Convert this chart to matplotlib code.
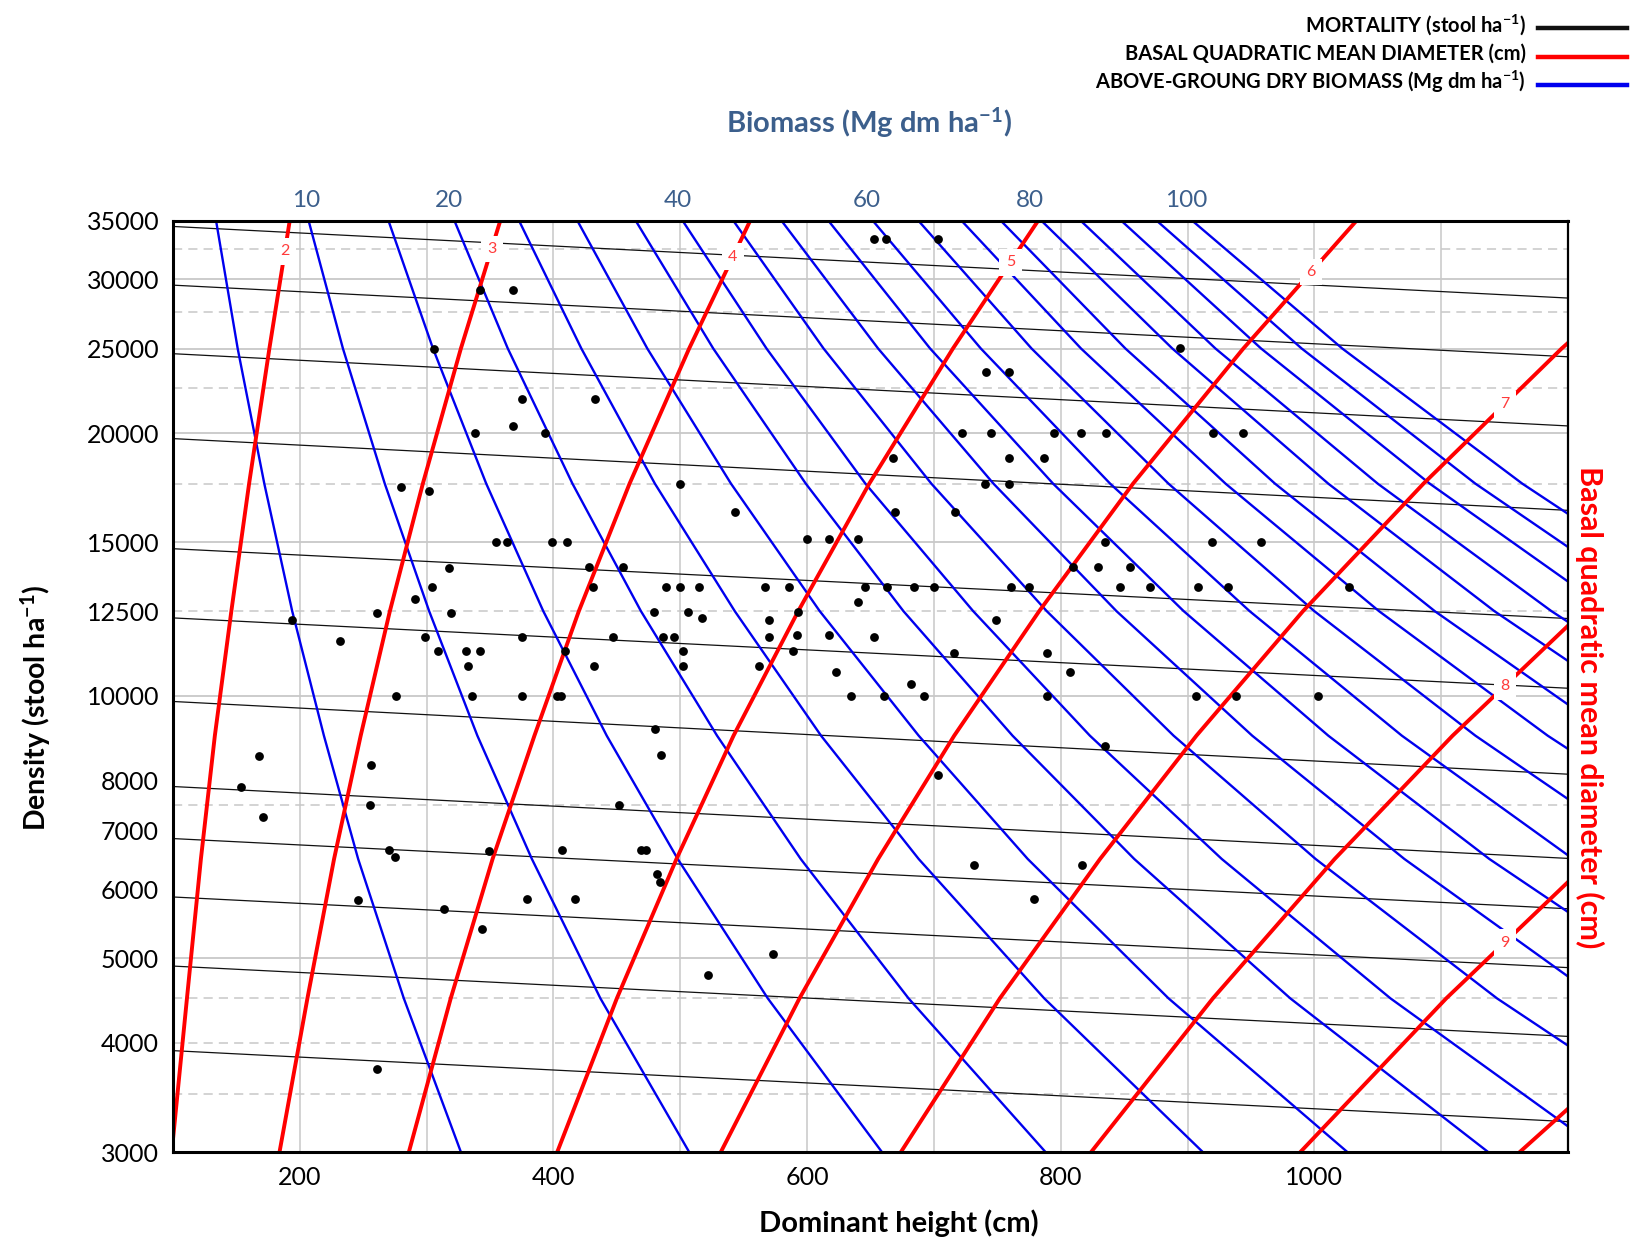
import numpy as np
import matplotlib.pyplot as plt
from matplotlib.lines import Line2D
from matplotlib.ticker import NullLocator, NullFormatter

plt.rcParams['font.family'] = ['Lato', 'DejaVu Sans']
plt.rcParams['mathtext.default'] = 'regular'

# sampled plots: dominant height (cm) and density (stool/ha)
plot_height = [342, 368, 306, 375, 433, 368, 338, 393, 280, 302, 355, 363, 399, 411, 318, 428,
               455, 304, 431, 291, 261, 319, 194, 232, 299, 309, 331, 342, 333, 375, 447, 409,
               432, 276, 336, 375, 403, 406, 168, 154, 171, 256, 255, 452, 270, 275, 349, 407,
               469, 473, 246, 314, 379, 417, 344, 261, 653, 662, 703, 741, 759, 722, 745, 795,
               816, 836, 668, 759, 787, 500, 740, 759, 543, 669, 717, 600, 617, 640, 835, 810,
               829, 855, 489, 500, 515, 567, 586, 646, 663, 684, 700, 761, 775, 847, 870, 640,
               894, 920, 944, 919, 958, 908, 932, 1027, 479, 506, 517, 570, 593, 486, 495, 502,
               502, 570, 592, 589, 562, 617, 653, 623, 682, 635, 661, 692, 749, 716, 789, 807,
               789, 480, 485, 835, 703, 482, 484, 732, 817, 779, 573, 522, 907, 938, 1003]
plot_density = [29200, 29200, 25000, 21900, 21900, 20400, 20000, 20000, 17350, 17160, 15000,
                15000, 15000, 15000, 14020, 14040, 14040, 13340, 13340, 12920, 12440, 12440,
                12200, 11550, 11670, 11250, 11250, 11250, 10830, 11670, 11670, 11250, 10830,
                10000, 10000, 10000, 10000, 10000, 8520, 7870, 7260, 8340, 7490, 7490, 6650,
                6540, 6640, 6650, 6650, 6650, 5830, 5700, 5850, 5850, 5410, 3730, 33380, 33380,
                33380, 23470, 23470, 20000, 20000, 20000, 20000, 20000, 18750, 18750, 18750,
                17500, 17500, 17500, 16240, 16240, 16240, 15130, 15130, 15130, 15000, 14040,
                14040, 14040, 13340, 13340, 13340, 13340, 13340, 13340, 13340, 13340, 13340,
                13340, 13340, 13340, 13340, 12800, 25040, 20000, 20000, 15000, 15000, 13340,
                13340, 13340, 12460, 12460, 12290, 12200, 12460, 11670, 11670, 11250, 10830,
                11670, 11750, 11250, 10830, 11750, 11670, 10660, 10320, 10000, 10000, 10000,
                12200, 11190, 11190, 10660, 10000, 9160, 8560, 8750, 8120, 6240, 6110, 6400,
                6400, 5850, 5060, 4780, 10000, 10000, 10000]

# density levels (stool/ha) at which the isoline heights are tabulated
iso_density = [35000, 25000, 17500, 12500, 9000, 6500, 4500, 3000]

# basal quadratic mean diameter isolines (cm): dominant height (cm) at each density level
dq_values = [2, 3, 4, 5, 6, 7, 8, 9, 10]
dq_heights = [
    [192, 176, 160, 146, 133, 122, 111, 99],
    [358, 327, 297, 271, 248, 227, 206, 184],
    [555, 507, 460, 420, 385, 352, 319, 286],
    [782, 715, 649, 593, 542, 497, 450, 403],
    [1033, 944, 857, 783, 716, 656, 594, 532],
    [1309, 1195, 1086, 991, 907, 831, 752, 674],
    [1600, 1461, 1327, 1212, 1109, 1016, 920, 824],
    [1921, 1754, 1593, 1454, 1331, 1219, 1104, 989],
    [2256, 2060, 1871, 1709, 1563, 1432, 1297, 1162],
]

# above-ground dry biomass isolines (Mg dm/ha): dominant height (cm) at each density level
biomass_values = [5, 10, 15, 20, 25, 30, 35, 40, 45, 50, 55, 60, 65, 70, 75, 80, 85, 90, 95, 100]
biomass_heights = [
    [134, 151, 172, 194, 219, 246, 282, 327],
    [207, 234, 267, 302, 340, 383, 437, 507],
    [270, 305, 347, 392, 442, 498, 569, 659],
    [322, 364, 415, 469, 529, 595, 680, 788],
    [373, 422, 480, 543, 611, 688, 787, 912],
    [419, 474, 540, 610, 688, 774, 885, 1026],
    [465, 526, 599, 676, 762, 858, 981, 1137],
    [502, 568, 646, 731, 823, 927, 1060, 1228],
    [542, 613, 698, 789, 889, 1001, 1144, 1326],
    [580, 656, 747, 844, 951, 1071, 1224],
    [617, 697, 794, 897, 1011, 1138, 1301],
    [652, 737, 839, 949, 1069, 1204],
    [688, 777, 885, 1000, 1127, 1269],
    [722, 816, 930, 1051, 1184, 1333],
    [753, 851, 969, 1095, 1235],
    [785, 888, 1011, 1142, 1287],
    [816, 922, 1050, 1187, 1338],
    [848, 958, 1091, 1233],
    [876, 990, 1127, 1274],
    [904, 1022, 1164, 1316],
]
biomass_labelled = [10, 20, 40, 60, 80, 100]

# mortality trajectories: density at the two ends of the height range
mort_height = [100, 1200]
mort_start = [34500, 29550, 24660, 19710, 14740, 12280, 9850, 7870, 6860, 5880, 4900, 3920]
mort_end = [28560, 24460, 20380, 16310, 12260, 10200, 8130, 6510, 5700, 4880, 4070, 3250]

# axes
y_ticks = [3000, 4000, 5000, 6000, 7000, 8000, 10000, 12500, 15000, 20000, 25000, 30000, 35000]
x_ticks = [200, 400, 600, 800, 1000]
x_grid = [200, 300, 400, 500, 600, 700, 800, 900, 1000, 1100]
y_grid_solid = [5000, 10000, 15000, 20000, 25000, 30000]
y_grid_dashed = [3500, 4000, 4500, 7500, 12500, 17500, 22500, 27500, 32500]

# where the diameter numbers sit: density for lines leaving through the top, height otherwise
dq_label_density = {2: 32300, 3: 32500, 4: 31850, 5: 31400, 6: 30600}
dq_label_height = 1150
# biomass numbers above the frame sit a little left of their isoline
biomass_label_shift = {10: -2, 20: -4, 40: -4, 60: -5, 80: -9, 100: -5}

W, H = 1630, 1248
fig = plt.figure(figsize=(W / 100, H / 100), dpi=100)
ax = fig.add_axes([173 / W, 1 - 1152 / H, 1395 / W, 931 / H])
ax.set_yscale('log')
ax.set_xlim(100, 1200)
ax.set_ylim(3000, 35000)

for x in x_grid:
    ax.axvline(x, color='#c8c8c8', lw=1.1, zorder=0.5)
for y in y_grid_solid:
    ax.axhline(y, color='#c8c8c8', lw=1.3, zorder=0.5)
for y in y_grid_dashed:
    ax.axhline(y, color='#c8c8c8', lw=1.1, ls=(0, (6, 4)), zorder=0.5)

for n0, n1 in zip(mort_start, mort_end):
    ax.plot(mort_height, [n0, n1], color='#111111', lw=0.9, zorder=1.5)

for row in biomass_heights:
    ax.plot(row, iso_density[:len(row)], color='#0000ee', lw=1.7, zorder=2)

log_n = np.log(iso_density)
for d, row in zip(dq_values, dq_heights):
    ax.plot(row, iso_density, color='#ff0000', lw=2.8, zorder=2.5)
    if d in dq_label_density:
        n = dq_label_density[d]
        h = np.interp(np.log(n), log_n[::-1], row[::-1])
    elif row[-1] < dq_label_height:
        h = dq_label_height
        n = np.exp(np.interp(h, row[::-1], log_n[::-1]))
    else:
        continue
    ax.text(h, n, str(d), color='#ff3b3b', fontsize=11.5, ha='center', va='center', zorder=6,
            bbox=dict(boxstyle='square,pad=0.4', fc='white', ec='none'))

ax.scatter(plot_height, plot_density, s=40, color='black', zorder=4, linewidths=0)

# biomass values written above the frame where their isolines meet it
for w, row in zip(biomass_values, biomass_heights):
    if w in biomass_labelled:
        ax.text(row[0] + biomass_label_shift[w], 1.022, str(w), transform=ax.get_xaxis_transform(),
                color='#3c5f8c', fontsize=17.5, ha='center', va='center')

ax.set_xticks(x_ticks)
ax.set_xticklabels([str(v) for v in x_ticks], fontsize=18)
ax.set_yticks(y_ticks)
ax.set_yticklabels([str(v) for v in y_ticks], fontsize=18)
ax.yaxis.set_minor_locator(NullLocator())
ax.yaxis.set_minor_formatter(NullFormatter())
ax.tick_params(length=0, pad=10)
for side, lw in zip(['left', 'bottom', 'top', 'right'], [2.2, 2.2, 2.2, 1.6]):
    ax.spines[side].set_linewidth(lw)

fig.text(899 / W, 1 - 1223 / H, 'Dominant height (cm)', fontsize=21, weight='bold',
         ha='center', va='center')
fig.text(36 / W, 1 - 708 / H, 'Density (stool ha$^{-1}$)', fontsize=20.5, weight='bold',
         rotation=90, ha='center', va='center')
fig.text(1590 / W, 1 - 707 / H, 'Basal quadratic mean diameter (cm)', fontsize=22,
         weight='bold', color='#ff0000', rotation=-90, ha='center', va='center')
fig.text(869 / W, 1 - 123 / H, 'Biomass (Mg dm ha$^{-1}$)', fontsize=21, weight='bold',
         color='#3c5f8c', ha='center', va='center')

legend_rows = [('MORTALITY (stool ha$^{-1}$)', '#111111'),
               ('BASAL QUADRATIC MEAN DIAMETER (cm)', '#ff0000'),
               ('ABOVE-GROUNG DRY BIOMASS (Mg dm ha$^{-1}$)', '#0000ee')]
for i, (label, color) in enumerate(legend_rows):
    y = 1 - (25 + 28.5 * i) / H
    fig.text(1526 / W, y, label, fontsize=14.5, weight='bold', ha='right', va='center')
    fig.add_artist(Line2D([1538 / W, 1627 / W], [y - 3 / H, y - 3 / H], color=color, lw=3.2,
                          transform=fig.transFigure))

fig.savefig('out.png', dpi=100)
